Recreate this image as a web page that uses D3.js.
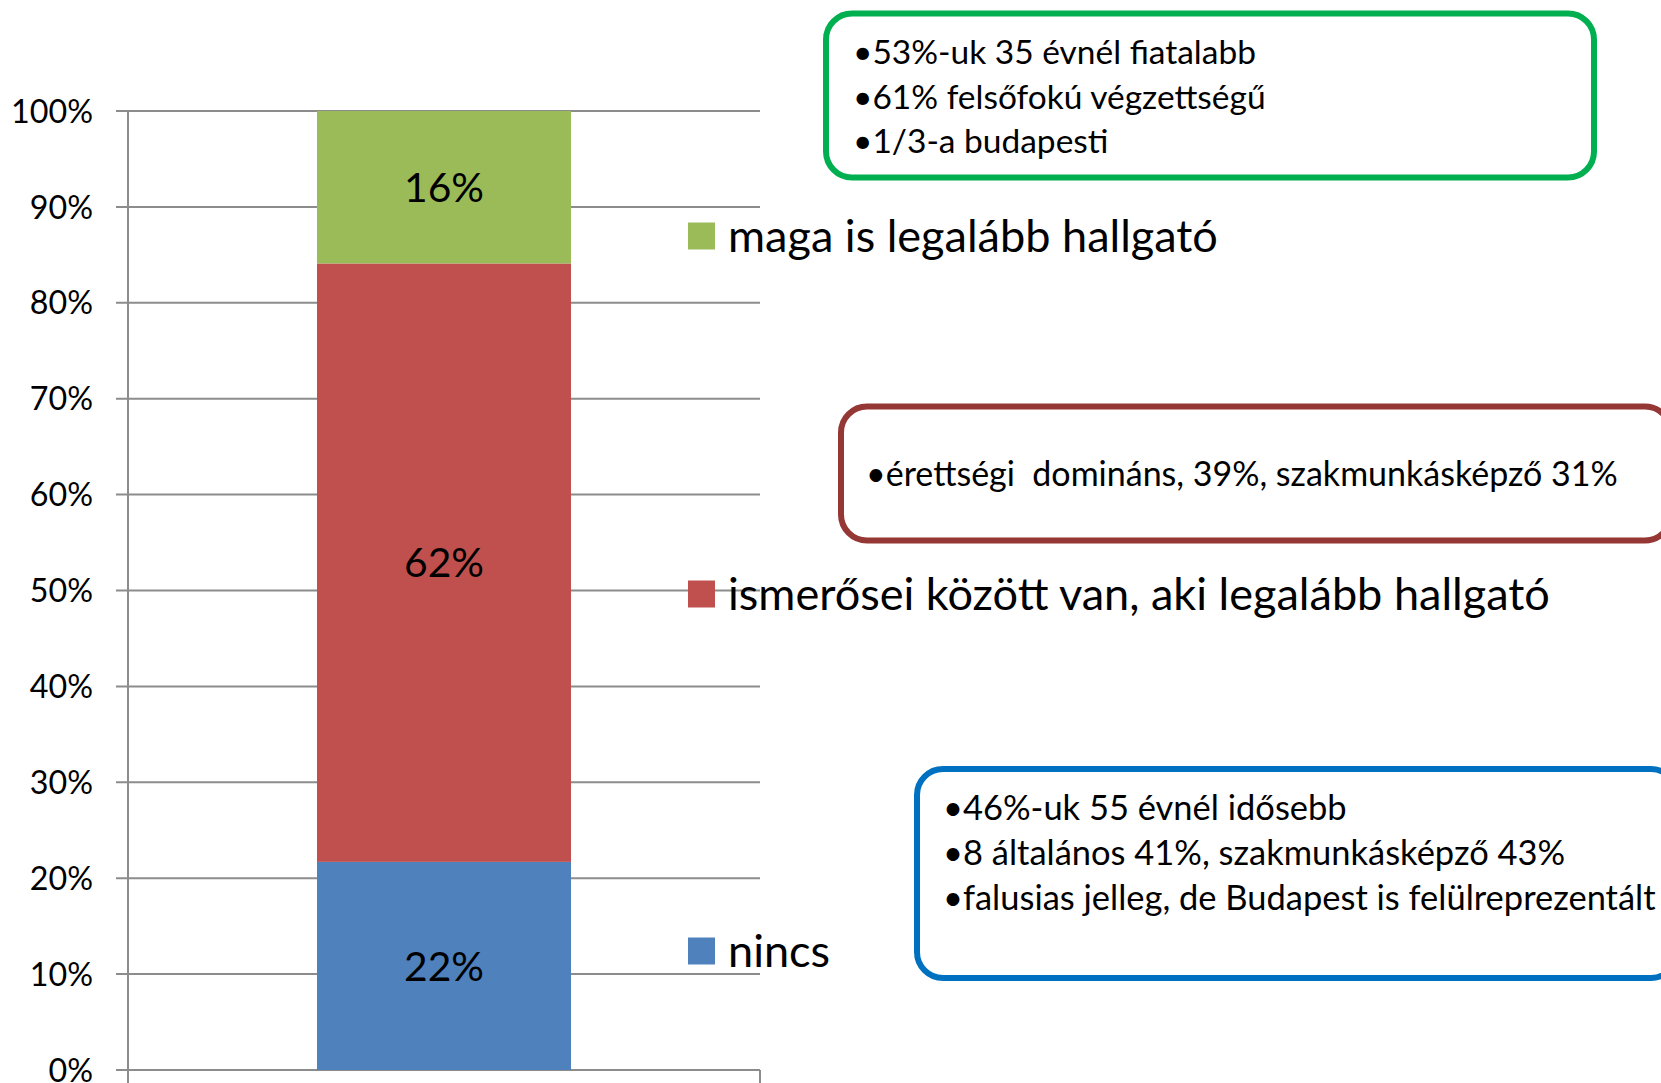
<!DOCTYPE html>
<html>
<head>
<meta charset="utf-8">
<script src="https://cdn.jsdelivr.net/npm/d3@7"></script>
<style>
  html, body { margin: 0; padding: 0; background: #fff; }
  svg { display: block; }
  text { font-family: Lato, "Open Sans", sans-serif; fill: #000; white-space: pre; }
</style>
</head>
<body>
<svg id="chart" width="1661" height="1083"></svg>
<script>
// ---------- data ----------
const categories = ["nincs", "ismerősei között van, aki legalább hallgató", "maga is legalább hallgató"];
const values = [21.7, 62.4, 15.9];           // percent, bottom to top
const tickValues = [0, 10, 20, 30, 40, 50, 60, 70, 80, 90, 100];
const tickLabels = ["0%", "10%", "20%", "30%", "40%", "50%", "60%", "70%", "80%", "90%", "100%"];
const notesTop = ["•53%-uk 35 évnél fiatalabb", "•61% felsőfokú végzettségű", "•1/3-a budapesti"];
const notesMiddle = ["•érettségi  domináns, 39%, szakmunkásképző 31%"];
const notesBottom = ["•46%-uk 55 évnél idősebb", "•8 általános 41%, szakmunkásképző 43%", "•falusias jelleg, de Budapest is felülreprezentált"];

// ---------- setup ----------
const svg = d3.select("#chart");
const color = d3.scaleOrdinal().domain(categories).range(["#4F81BD", "#C0504D", "#9BBB59"]);

const y = d3.scaleLinear().domain([0, 100]).range([1070, 111]);
const x = d3.scaleBand().domain(["all"]).range([128, 760]).padding(0.4266);

// helper: set font size so text fits a target width
function fit(sel, targetWidth, base) {
  sel.attr("font-size", base);
  const w = sel.node().getComputedTextLength();
  sel.attr("font-size", base * targetWidth / w);
  return base * targetWidth / w;
}

// ---------- grid + axis ----------
const gridColor = "#8c8c8c";
const grid = svg.append("g");
grid.selectAll("line.grid")
  .data(tickValues)
  .join("line")
  .attr("x1", 116).attr("x2", 760)
  .attr("y1", d => y(d)).attr("y2", d => y(d))
  .attr("stroke", gridColor).attr("stroke-width", 2);

// y axis line
grid.append("line")
  .attr("x1", x.range()[0]).attr("x2", x.range()[0])
  .attr("y1", y(100)).attr("y2", 1083)
  .attr("stroke", gridColor).attr("stroke-width", 2);
// right category tick
grid.append("line")
  .attr("x1", x.range()[1]).attr("x2", x.range()[1])
  .attr("y1", y(0)).attr("y2", 1083)
  .attr("stroke", gridColor).attr("stroke-width", 2);

// tick labels
const tl = svg.append("g").selectAll("text")
  .data(tickValues)
  .join("text")
  .attr("x", 93)
  .attr("y", d => y(d))
  .attr("dy", "0.36em")
  .attr("text-anchor", "end")
  .text((d, i) => tickLabels[i]);
const tickSize = fit(tl.filter((d, i) => i === tickValues.length - 1), 82, 30);
tl.attr("font-size", tickSize);

// ---------- stacked bar ----------
const stacked = [];
let acc = 0;
values.forEach((v, i) => { stacked.push({ key: categories[i], y0: acc, y1: acc + v, v }); acc += v; });

const bars = svg.append("g");
bars.selectAll("rect")
  .data(stacked)
  .join("rect")
  .attr("x", x("all"))
  .attr("width", x.bandwidth())
  .attr("y", d => y(d.y1))
  .attr("height", d => y(d.y0) - y(d.y1))
  .attr("fill", d => color(d.key));

const labels = bars.selectAll("text")
  .data(stacked)
  .join("text")
  .attr("x", x("all") + x.bandwidth() / 2)
  .attr("y", d => y((d.y0 + d.y1) / 2))
  .attr("dy", "0.36em")
  .attr("text-anchor", "middle")
  .text(d => Math.round(d.v) + "%");
const lblSize = fit(labels.filter((d, i) => i === 0), 80, 40);
labels.attr("font-size", lblSize);

// ---------- legend ----------
const legendY = { };
legendY[categories[0]] = 951;
legendY[categories[1]] = 594;
legendY[categories[2]] = 236;
const lg = svg.append("g").selectAll("g")
  .data(categories)
  .join("g")
  .attr("transform", d => `translate(688, ${legendY[d]})`);
lg.append("rect")
  .attr("x", 0).attr("y", -13.5)
  .attr("width", 27).attr("height", 27)
  .attr("fill", d => color(d));
const lgText = lg.append("text")
  .attr("x", 40)
  .attr("y", 0)
  .attr("dy", "0.36em")
  .text(d => d);
const lgSize = fit(lgText.filter((d, i) => i === 1), 822, 40);
lgText.attr("font-size", lgSize);

// ---------- note boxes ----------
function noteBox(lines, box, stroke, textX, firstY, lineGap, fitIndex, fitWidth) {
  const g = svg.append("g");
  g.append("rect")
    .attr("x", box.x).attr("y", box.y)
    .attr("width", box.w).attr("height", box.h)
    .attr("rx", 26).attr("ry", 26)
    .attr("fill", "#fff")
    .attr("stroke", stroke).attr("stroke-width", 6);
  const t = g.selectAll("text")
    .data(lines)
    .join("text")
    .attr("x", textX)
    .attr("y", (d, i) => firstY + i * lineGap)
    .attr("dy", "0.36em")
    .text(d => d);
  const s = fit(t.filter((d, i) => i === fitIndex), fitWidth, 30);
  t.attr("font-size", s);
}

noteBox(notesTop, { x: 826, y: 13.5, w: 768, h: 164 }, "#00B050", 853, 52, 44.5, 0, 403);
noteBox(notesMiddle, { x: 841, y: 406.5, w: 830, h: 134 }, "#953735", 866, 474, 0, 0, 752);
noteBox(notesBottom, { x: 917, y: 769, w: 760, h: 209 }, "#0070C0", 943, 808, 45, 2, 713);
</script>
</body>
</html>
